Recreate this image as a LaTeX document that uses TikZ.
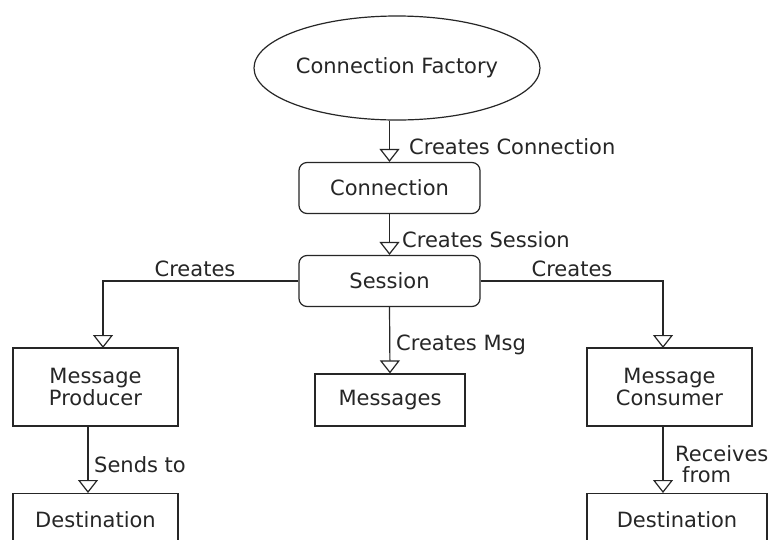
\documentclass[tikz,border=0pt]{standalone}
\usepackage{fontspec}
\setmainfont{DejaVu Sans}
\usetikzlibrary{shapes.geometric,arrows.meta,calc}
\begin{document}
\begin{tikzpicture}[x=1pt,y=-1pt,
  every node/.style={font=\fontsize{21}{21.5}\selectfont, text=black!85},
  line/.style={line width=1.2pt, draw=black!85},
  arr/.style={line, -{Triangle[open, length=13pt, width=20pt, line width=1.2pt]}},
  rbox/.style={line, rounded corners=8pt, minimum width=181pt, minimum height=51pt, inner sep=0pt},
  sbox/.style={line, minimum width=165pt, minimum height=78pt, inner sep=0pt, align=center},
  lbl/.style={inner sep=0pt}
]
\useasboundingbox (0,0) rectangle (771,539);
\clip (0,0) rectangle (771,539);
\fill[white] (0,0) rectangle (771,539);

\node[ellipse, line, minimum width=286pt, minimum height=104pt, inner sep=0pt] (cf) at (397,68) {Connection Factory};
\node[rbox] (conn) at (389.5,188) {Connection};
\node[rbox] (sess) at (389.5,281) {Session};
\node[sbox] (prod) at (95.5,387) {Message\\Producer};
\node[sbox, minimum width=150pt, minimum height=52pt] (msgs) at (390,400) {Messages};
\node[sbox] (cons) at (669.5,387) {Message\\Consumer};
\node[line, minimum width=165pt, minimum height=60pt, inner sep=0pt, anchor=north] (dl) at (95.5,493) {};
\node[line, minimum width=180pt, minimum height=60pt, inner sep=0pt, anchor=north] (dr) at (677,493) {};
\node (dlt) at (95.5,520) {Destination};
\node (drt) at (677,520) {Destination};

\coordinate (pl) at (103,348);
\coordinate (pr) at (663,348);
\coordinate (sl) at (88,493);
\coordinate (rl) at (663,493);

\draw[arr] (cf.south -| conn.north) -- (conn.north);
\draw[arr] (conn.south) -- (sess.north);
\draw[arr] (sess.west) -| (pl);
\draw[arr] (sess.east) -| (pr);
\draw[arr] (sess.south) -- (msgs.north);
\draw[arr] (prod.south -| sl) -- (sl);
\draw[arr] (cons.south -| rl) -- (rl);

\node[lbl, anchor=west] (l1) at (409,147) {Creates Connection};
\node[lbl, anchor=west] (l2) at (402,240) {Creates Session};
\node[lbl] (l3) at (195,269) {Creates};
\node[lbl] (l4) at (572,269) {Creates};
\node[lbl, anchor=west] (l5) at (396,345) {Creates Msg};
\node[lbl, anchor=west] (l6) at (94,465) {Sends to};
\node[lbl, anchor=west, align=left] (l7) at (675,464) {Receives\\\hspace*{7pt}from};
\end{tikzpicture}
\end{document}
